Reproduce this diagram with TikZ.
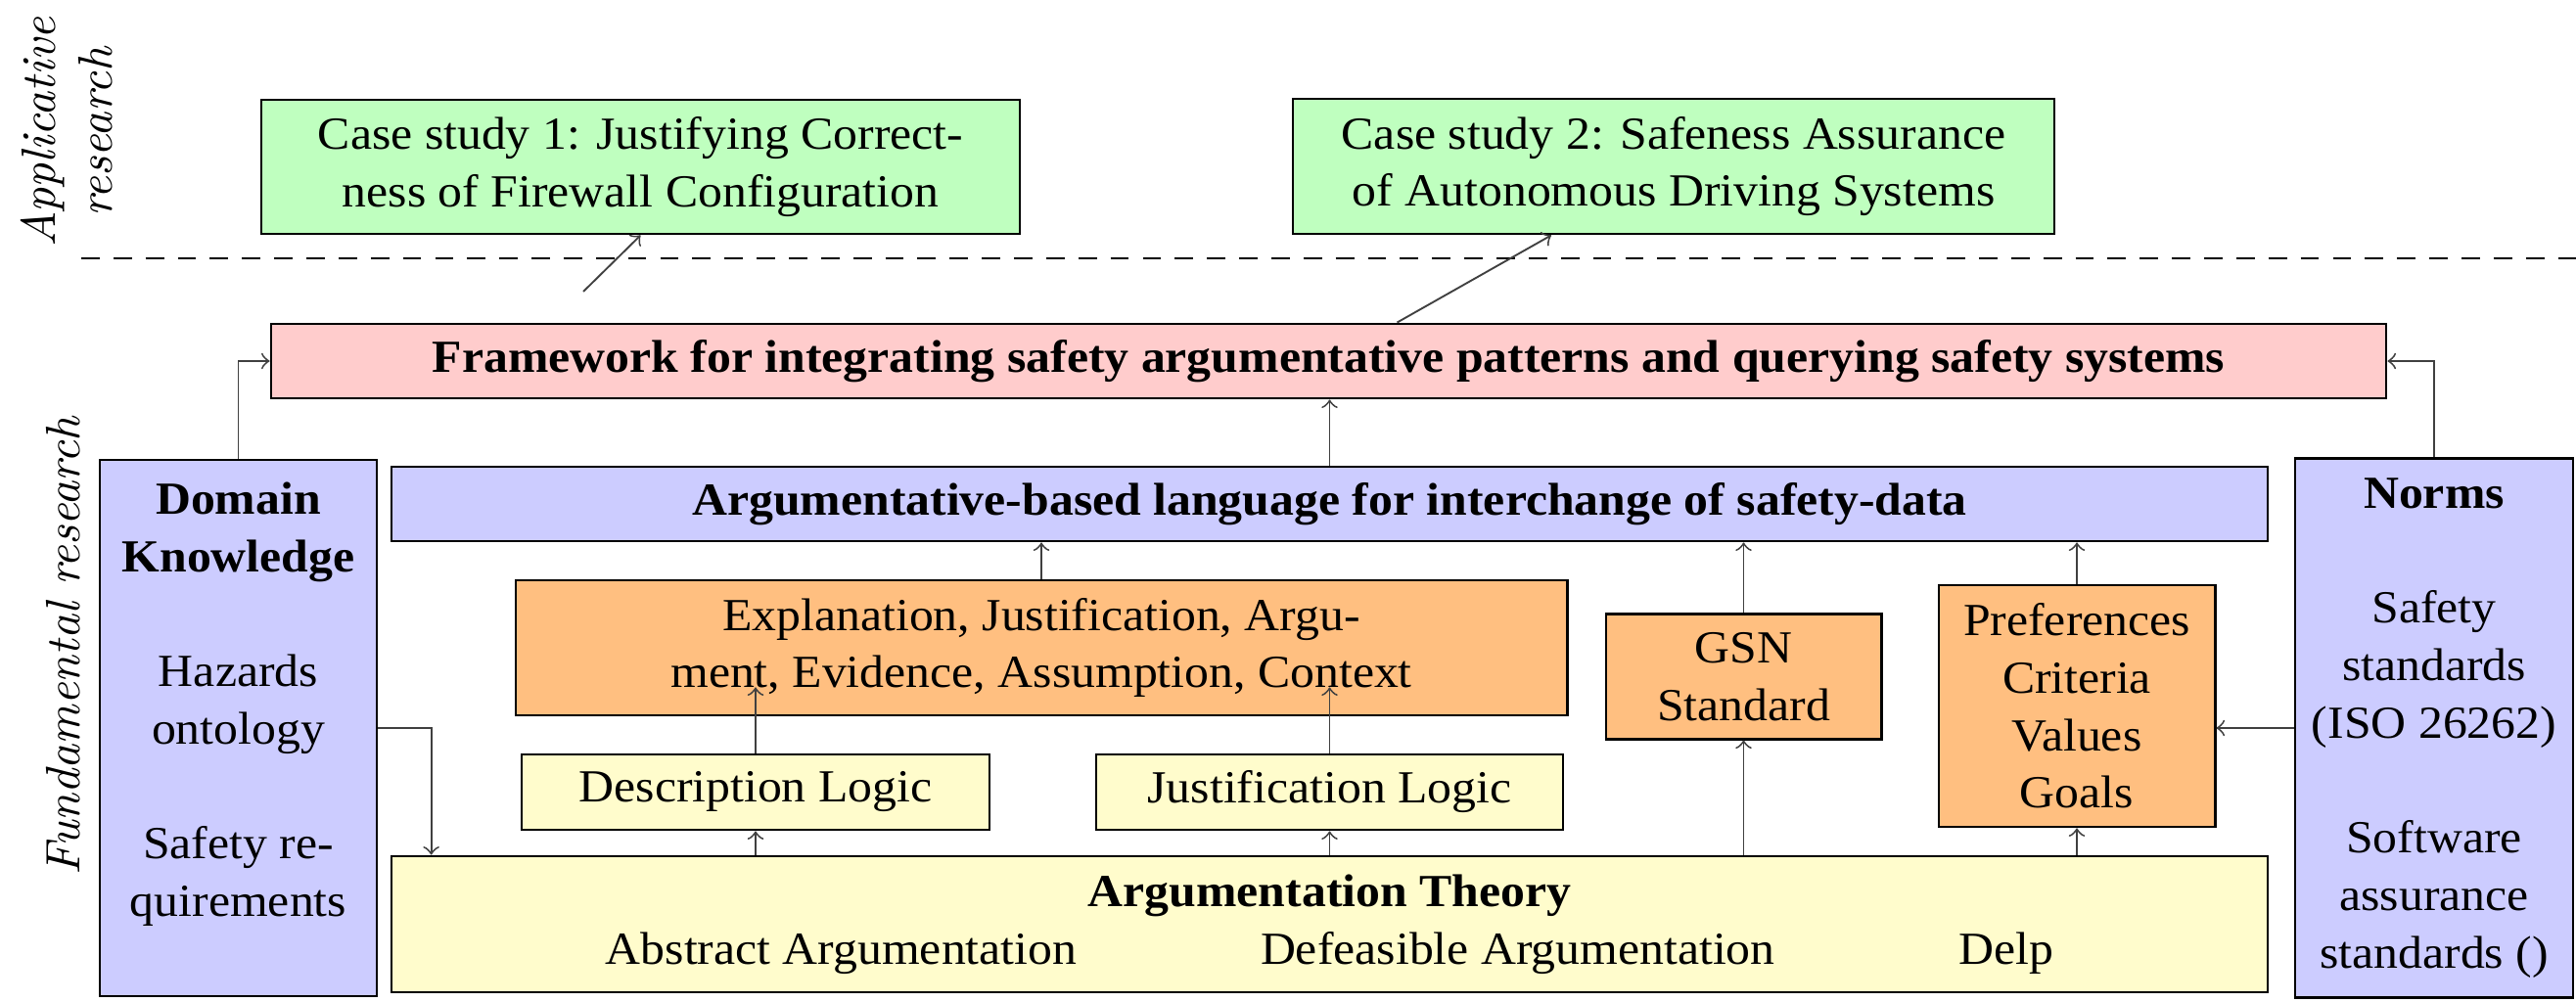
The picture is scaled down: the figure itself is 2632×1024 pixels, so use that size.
\documentclass[tikz,border=0pt]{standalone}
\usepackage{fontspec}
\newfontfamily\timesrm{Liberation Serif}[FakeStretch=1.06]
\usetikzlibrary{calc}

\tikzset{every picture/.style={line width=0.6pt}}
\tikzset{
  box/.style={draw, line width=0.6pt, align=center, inner sep=0pt, font=\timesrm\fontsize{10}{12.5}\selectfont},
  casebox/.style={box, fill=green!25},
  fwbox/.style={box, fill=red!20},
  bluebox/.style={box, fill=blue!20},
  orangebox/.style={box, fill=orange!50},
  yellowbox/.style={box, fill=yellow!20},
  arr/.style={->, line width=0.4pt, black!75},
  sidelabel/.style={rotate=90, align=center, font=\itshape\fontsize{10.5}{12.5}\selectfont},
}

\begin{document}
\begin{tikzpicture}[x=0.213pt,y=0.213pt,yscale=-1,xscale=1]
		\useasboundingbox (0,0) rectangle (2632,1024);
		
		% Side labels
		\node[sidelabel] (applabel) at (68,135) {Applicative\\research};
		\node[sidelabel] (fundlabel) at (65,660) {Fundamental research};
		
		%Straight Lines (border between the two levels)
		\draw [dash pattern=on 4pt off 3pt] (83,264) -- (2632,264) ;
		
		% Case studies
		\node[casebox, minimum width=165.1pt, minimum height=29.2pt] (cs1) at (654.5,170.5) {Case study 1: Justifying Correct-\\ness of Firewall Configuration};
		\node[casebox, minimum width=165.7pt, minimum height=29.4pt] (cs2) at (1710,170) {Case study 2: Safeness Assurance\\of Autonomous Driving Systems};
		
		% Framework
		\node[fwbox, minimum width=460.3pt, minimum height=16.2pt] (fw) at (1357.5,369) {\textbf{Framework for integrating safety argumentative patterns and querying safety systems}};
		
		% Domain knowledge and norms
		\node[bluebox, minimum width=60.3pt, minimum height=116.7pt] (dk) at (243.5,744) {\textbf{Domain}\\\textbf{Knowledge}\\[12.5pt]Hazards\\ontology\\[12.5pt]Safety re-\\quirements\\\mbox{}};
		\node[bluebox, minimum width=60.5pt, minimum height=117.2pt] (nm) at (2487,744) {\textbf{Norms}\\[12.5pt]Safety\\standards\\(ISO 26262)\\[12.5pt]Software\\assurance\\standards ()};
		
		% Language
		\node[bluebox, minimum width=408.3pt, minimum height=16.2pt] (al) at (1358.5,515) {\textbf{Argumentative-based language for interchange of safety-data}};
		
		% Middle layer
		\node[orangebox, minimum width=228.8pt, minimum height=29.4pt] (ex) at (1064,662) {Explanation, Justification, Argu-\\ment, Evidence, Assumption, Context};
		\node[orangebox, minimum width=59.9pt, minimum height=27.1pt] (gsn) at (1781.5,691.5) {GSN\\Standard};
		\node[orangebox, minimum width=60.1pt, minimum height=52.6pt] (pr) at (2122,721.5) {Preferences\\Criteria\\Values\\Goals};
		\node[yellowbox, minimum width=101.8pt, minimum height=16.4pt] (dl) at (772,809.5) {Description Logic};
		\node[yellowbox, minimum width=101.6pt, minimum height=16.4pt] (jl) at (1358.5,809.5) {Justification Logic};
		
		% Argumentation theory
		\node[yellowbox, minimum width=408.3pt, minimum height=29.6pt] (at) at (1358.5,944.5) {\textbf{Argumentation Theory}\\Abstract Argumentation\hspace{4em}Defeasible Argumentation\hspace{4em}Delp};
		
		% Connections
		\coordinate (cs1in) at (596,298);
		\draw[arr] (cs1in) -- (cs1.south);
		\draw[arr] ($(fw.north)+(70,0)$) -- ($(cs2.south)+(-125,0)$);
		\draw[arr] (al.north) -- (al.north |- fw.south);
		\draw[arr] (dk.north) |- (fw.west);
		\draw[arr] (nm.north) |- (fw.east);
		\draw[arr] (ex.north) -- (ex.north |- al.south);
		\draw[arr] (gsn.north) -- (gsn.north |- al.south);
		\draw[arr] (pr.north) -- (pr.north |- al.south);
		\draw[arr] (dl.north) -- ($(dl.north |- ex.south)+(0,-30)$);
		\draw[arr] (jl.north) -- ($(jl.north |- ex.south)+(0,-30)$);
		\draw[arr] (at.north -| dl.south) -- (dl.south);
		\draw[arr] (at.north -| jl.south) -- (jl.south);
		\draw[arr] (at.north -| gsn.south) -- (gsn.south);
		\draw[arr] (at.north -| pr.south) -- (pr.south);
		\draw[arr] (dk.east) -| ($(at.north west)+(42,0)$);
		\draw[arr] (nm.west) -- (nm.west -| pr.east);
		
\end{tikzpicture}
\end{document}
